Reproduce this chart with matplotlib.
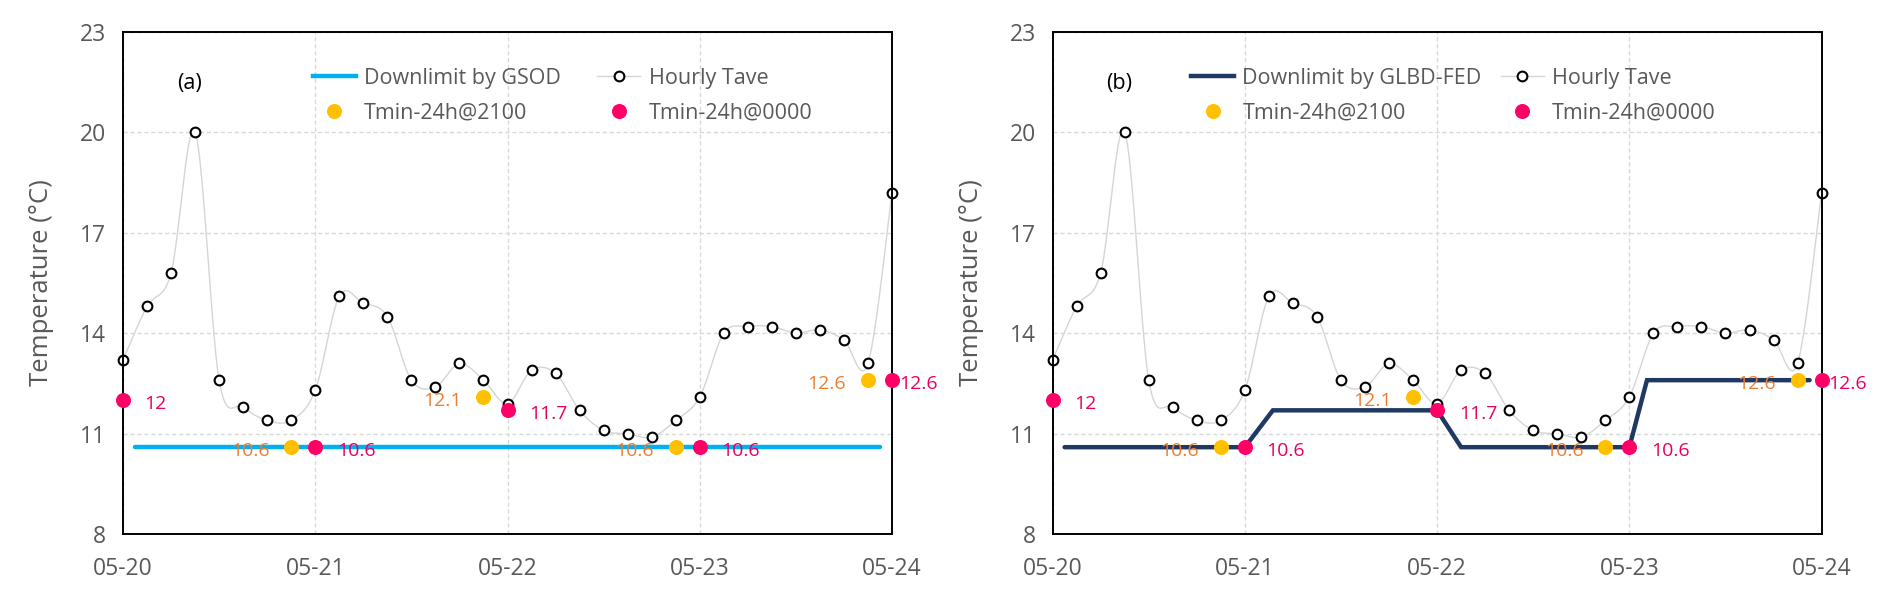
import numpy as np
import matplotlib
matplotlib.use("Agg")
import matplotlib.pyplot as plt
from matplotlib.lines import Line2D

plt.rcParams['font.family'] = ['Open Sans', 'DejaVu Sans']

# ---------------- data ----------------
day_labels = ["05-20", "05-21", "05-22", "05-23", "05-24"]
y_ticks = [8, 11, 14, 17, 20, 23]

# hourly Tave, every 3 hours from 05-20 00:00 to 05-24 00:00
tave_hours = list(range(0, 97, 3))
tave_vals = [13.2, 14.8, 15.8, 20.0, 12.6, 11.8, 11.4, 11.4,
             12.3, 15.1, 14.9, 14.5, 12.6, 12.4, 13.1, 12.6,
             11.9, 12.9, 12.8, 11.7, 11.1, 11.0, 10.9, 11.4,
             12.1, 14.0, 14.2, 14.2, 14.0, 14.1, 13.8, 13.1,
             18.2]

tmin2100_hours = [21, 45, 69, 93]
tmin2100_vals = [10.6, 12.1, 10.6, 12.6]

tmin0000_hours = [0, 24, 48, 72, 96]
tmin0000_vals = [12.0, 10.6, 11.7, 10.6, 12.6]

gsod_hours = [1.5, 94.5]
gsod_vals = [10.6, 10.6]

glbd_hours = [1.5, 24, 27.5, 48, 51, 72, 74.2, 94.5]
glbd_vals = [10.6, 10.6, 11.7, 11.7, 10.6, 10.6, 12.6, 12.6]

# ---------------- styles ----------------
GREY_TXT = '#595959'
GRID = '#D9D9D9'
YELLOW = '#FFC000'
PINK = '#FF0066'
ORANGE_TXT = '#ED7D31'
PINK_TXT = '#E8005F'
GSOD_C = '#00B0F0'
GLBD_C = '#1F3864'


def smooth(x, y, n=24):
    x = np.asarray(x, float)
    y = np.asarray(y, float)
    P = np.column_stack([x, y])
    out = []
    for i in range(len(P) - 1):
        p0 = P[i - 1] if i > 0 else P[i]
        p1 = P[i]
        p2 = P[i + 1]
        p3 = P[i + 2] if i + 2 < len(P) else P[i + 1]
        c1 = p1 + (p2 - p0) / 6.0
        c2 = p2 - (p3 - p1) / 6.0
        t = np.linspace(0, 1, n)[:, None]
        seg = ((1 - t) ** 3) * p1 + 3 * ((1 - t) ** 2) * t * c1 + 3 * (1 - t) * t ** 2 * c2 + t ** 3 * p2
        if i > 0:
            seg = seg[1:]
        out.append(seg)
    out = np.vstack(out)
    return out[:, 0], out[:, 1]


fig = plt.figure(figsize=(18.92, 6.04), dpi=100)
W, H = 1892, 604
ax_w = 769 / W
ax_h = 502.6 / H
ax_b = 1 - 534.3 / H
lefts = [123 / W, 1052.6 / W]

panels = [
    dict(tag='(a)', name='Downlimit by GSOD', hours=gsod_hours, vals=gsod_vals,
         color=GSOD_C, leg_x=0.2467, colsp=1.7, ylab_x=42),
    dict(tag='(b)', name='Downlimit by GLBD-FED', hours=glbd_hours, vals=glbd_vals,
         color=GLBD_C, leg_x=0.180, colsp=0.9, ylab_x=971),
]

for k, p in enumerate(panels):
    ax = fig.add_axes([lefts[k], ax_b, ax_w, ax_h])
    ax.set_xlim(0, 4)
    ax.set_ylim(8, 23)
    ax.set_xticks(range(len(day_labels)))
    ax.set_xticklabels(day_labels)
    ax.set_yticks(y_ticks)
    ax.tick_params(axis='both', length=0, labelsize=16.5, colors=GREY_TXT)
    ax.tick_params(axis='x', pad=16)
    ax.tick_params(axis='y', pad=12)
    ax.grid(True, color=GRID, linestyle=(0, (3, 2)), linewidth=1.0)
    ax.set_axisbelow(True)
    for s in ax.spines.values():
        s.set_color('black')
        s.set_linewidth(1.4)
        s.set_zorder(6)

    td = np.array(tave_hours) / 24.0
    sx, sy = smooth(td, tave_vals)
    ax.plot(sx, sy, color='#D5D5D5', lw=1.0, zorder=2, clip_on=False)

    ax.plot(np.array(p['hours']) / 24.0, p['vals'], color=p['color'], lw=3.2,
            solid_capstyle='round', solid_joinstyle='miter', zorder=3)

    ax.plot(td, tave_vals, linestyle='none', marker='o', ms=7.0, mfc='white',
            mec='black', mew=1.5, zorder=4, clip_on=False)

    ax.plot(np.array(tmin2100_hours) / 24.0, tmin2100_vals, linestyle='none',
            marker='o', ms=9.8, color=YELLOW, mec=YELLOW, zorder=7, clip_on=False)
    ax.plot(np.array(tmin0000_hours) / 24.0, tmin0000_vals, linestyle='none',
            marker='o', ms=9.8, color=PINK, mec=PINK, zorder=7, clip_on=False)

    for h, v in zip(tmin2100_hours, tmin2100_vals):
        ax.annotate(f"{v:g}", (h / 24.0, v), xytext=(-15.6, -2.6), textcoords='offset points',
                    ha='right', va='center', fontsize=14, color=ORANGE_TXT, zorder=8,
                    annotation_clip=False)
    last = len(tmin0000_hours) - 1
    for i, (h, v) in enumerate(zip(tmin0000_hours, tmin0000_vals)):
        dx = 5.0 if i == last else 15.6
        ax.annotate(f"{v:g}", (h / 24.0, v), xytext=(dx, -2.6), textcoords='offset points',
                    ha='left', va='center', fontsize=14, color=PINK_TXT, zorder=8,
                    annotation_clip=False)

    ax.text(0.345, 21.45, p['tag'], fontsize=15.5, color='black', ha='center', va='center')

    handles = [
        Line2D([], [], color=p['color'], lw=3.2),
        Line2D([], [], linestyle='none', marker='o', ms=9.8, color=YELLOW),
        Line2D([], [], color='#D5D5D5', lw=1.0, marker='o', ms=7.0, mfc='white',
               mec='black', mew=1.5),
        Line2D([], [], linestyle='none', marker='o', ms=9.8, color=PINK),
    ]
    labels = [p['name'], 'Tmin-24h@2100', 'Hourly Tave', 'Tmin-24h@0000']
    leg = ax.legend(handles, labels, ncol=2, loc='upper left',
                    bbox_to_anchor=(p['leg_x'], 0.928), frameon=False,
                    fontsize=15.5, handlelength=2.0, handletextpad=0.38,
                    columnspacing=p['colsp'], labelspacing=0.62,
                    borderpad=0, borderaxespad=0)
    for t in leg.get_texts():
        t.set_color(GREY_TXT)

    fig.text(p['ylab_x'] / W, 1 - 283 / H, 'Temperature (°C)', rotation=90,
             ha='center', va='center', fontsize=18.5, color=GREY_TXT)

fig.savefig('out.png', dpi=100, facecolor='white')
